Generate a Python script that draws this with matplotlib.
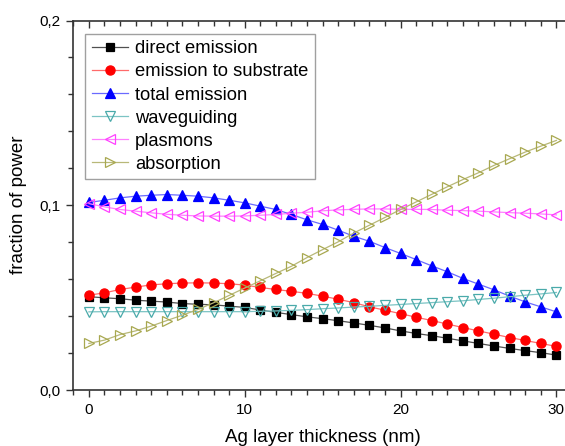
import matplotlib
matplotlib.use("Agg")
import matplotlib.pyplot as plt
from matplotlib.ticker import MultipleLocator, FuncFormatter

thickness = list(range(0, 31))

direct_emission = [0.0505, 0.0499, 0.0494, 0.0486, 0.0481, 0.0476, 0.0468, 0.0464, 0.0461, 0.0454, 0.0447,
                   0.0433, 0.0420, 0.0408, 0.0396, 0.0386, 0.0375, 0.0363, 0.0350, 0.0336, 0.0320,
                   0.0306, 0.0294, 0.0280, 0.0266, 0.0252, 0.0238, 0.0225, 0.0213, 0.0202, 0.0189]
emission_substrate = [0.0513, 0.0526, 0.0544, 0.0557, 0.0569, 0.0575, 0.0579, 0.0580, 0.0579, 0.0575, 0.0568,
                      0.0555, 0.0544, 0.0534, 0.0523, 0.0508, 0.0491, 0.0473, 0.0450, 0.0432, 0.0413,
                      0.0394, 0.0376, 0.0357, 0.0338, 0.0320, 0.0302, 0.0284, 0.0268, 0.0252, 0.0236]
total_emission = [0.1015, 0.1027, 0.1040, 0.1049, 0.1054, 0.1058, 0.1054, 0.1049, 0.1040, 0.1027, 0.1013,
                  0.0995, 0.0977, 0.0950, 0.0921, 0.0896, 0.0865, 0.0832, 0.0805, 0.0771, 0.0739,
                  0.0706, 0.0672, 0.0640, 0.0604, 0.0573, 0.0542, 0.0508, 0.0477, 0.0450, 0.0423]
waveguiding = [0.0423, 0.0424, 0.0424, 0.0424, 0.0424, 0.0424, 0.0424, 0.0424, 0.0424, 0.0424, 0.0424,
               0.0426, 0.0428, 0.0431, 0.0435, 0.0440, 0.0444, 0.0449, 0.0453, 0.0458, 0.0463,
               0.0468, 0.0473, 0.0478, 0.0483, 0.0490, 0.0497, 0.0505, 0.0513, 0.0520, 0.0528]
plasmons = [0.1009, 0.0991, 0.0977, 0.0968, 0.0959, 0.0951, 0.0946, 0.0942, 0.0941, 0.0941, 0.0942,
            0.0946, 0.0950, 0.0957, 0.0962, 0.0970, 0.0975, 0.0978, 0.0980, 0.0980, 0.0978,
            0.0978, 0.0977, 0.0973, 0.0971, 0.0968, 0.0964, 0.0960, 0.0957, 0.0953, 0.0948]
absorption = [0.0252, 0.0270, 0.0300, 0.0320, 0.0346, 0.0376, 0.0405, 0.0436, 0.0472, 0.0512, 0.0552,
              0.0591, 0.0631, 0.0670, 0.0717, 0.0760, 0.0802, 0.0850, 0.0892, 0.0934, 0.0977,
              0.1018, 0.1059, 0.1100, 0.1139, 0.1176, 0.1216, 0.1252, 0.1288, 0.1320, 0.1351]

labels = ["direct emission", "emission to substrate", "total emission",
          "waveguiding", "plasmons", "absorption"]
x_ticks = [0, 10, 20, 30]
y_ticks = [0.0, 0.1, 0.2]

plt.rcParams['font.family'] = ['Liberation Sans', 'DejaVu Sans']

fig = plt.figure(figsize=(5.65, 4.46), dpi=100)
ax = fig.add_axes([73.3 / 565, (446 - 390) / 446, (572 - 73.3) / 565, (390 - 20.5) / 446])

styles = [
    dict(color='#505050', marker='s', mfc='black', mec='black', ms=5.8),
    dict(color='#FF6A6A', marker='o', mfc='red', mec='red', ms=6.6),
    dict(color='#6A6AFF', marker='^', mfc='blue', mec='blue', ms=7.4),
    dict(color='#7CC4C4', marker='v', mfc='none', mec='#4AAAAA', ms=7.6),
    dict(color='#FF80FF', marker='<', mfc='none', mec='#FF40FF', ms=7.6),
    dict(color='#B8B878', marker='>', mfc='none', mec='#A8A850', ms=7.6),
]
series = [direct_emission, emission_substrate, total_emission, waveguiding, plasmons, absorption]
for ys, lab, st in zip(series, labels, styles):
    ax.plot(thickness, ys, label=lab, lw=0.9, mew=0.9, **st)

ax.set_xlim(-1, 31)
ax.set_ylim(0, 0.2)
ax.set_xticks(x_ticks)
ax.set_yticks(y_ticks)
ax.xaxis.set_minor_locator(MultipleLocator(1))
ax.yaxis.set_minor_locator(MultipleLocator(0.02))
ax.yaxis.set_major_formatter(FuncFormatter(lambda v, p: f"{v:.1f}".replace('.', ',')))

for sp in ax.spines.values():
    sp.set_linewidth(1.2)
    sp.set_color('#333333')

ax.tick_params(axis='both', which='major', direction='out', length=5, width=1, color='#333333',
               labelsize=11, pad=4)
ax.tick_params(axis='both', which='minor', direction='out', length=3.5, width=1, color='#333333')
ax.tick_params(axis='x', which='both', top=True)
ax.tick_params(axis='y', which='both', right=True)

# top/right ticks point inward
for t in ax.xaxis.get_major_ticks() + ax.xaxis.get_minor_ticks():
    t.tick2line.set_marker(matplotlib.lines.TICKDOWN)
for t in ax.yaxis.get_major_ticks() + ax.yaxis.get_minor_ticks():
    t.tick2line.set_marker(matplotlib.lines.TICKLEFT)

ax.set_xlabel("Ag layer thickness (nm)", fontsize=13.5, labelpad=9)
ax.set_ylabel("fraction of power", fontsize=13.5, labelpad=9)

leg = ax.legend(loc='upper left', bbox_to_anchor=(12 / 498.7, 1 - 13.5 / 369.5), borderaxespad=0,
                fontsize=13.2, frameon=True, fancybox=False, handlelength=2.0, handletextpad=0.35,
                labelspacing=0.33, borderpad=0.35)
leg.get_frame().set_edgecolor('#888888')
leg.get_frame().set_linewidth(1.0)

fig.savefig("out.png", dpi=100)
